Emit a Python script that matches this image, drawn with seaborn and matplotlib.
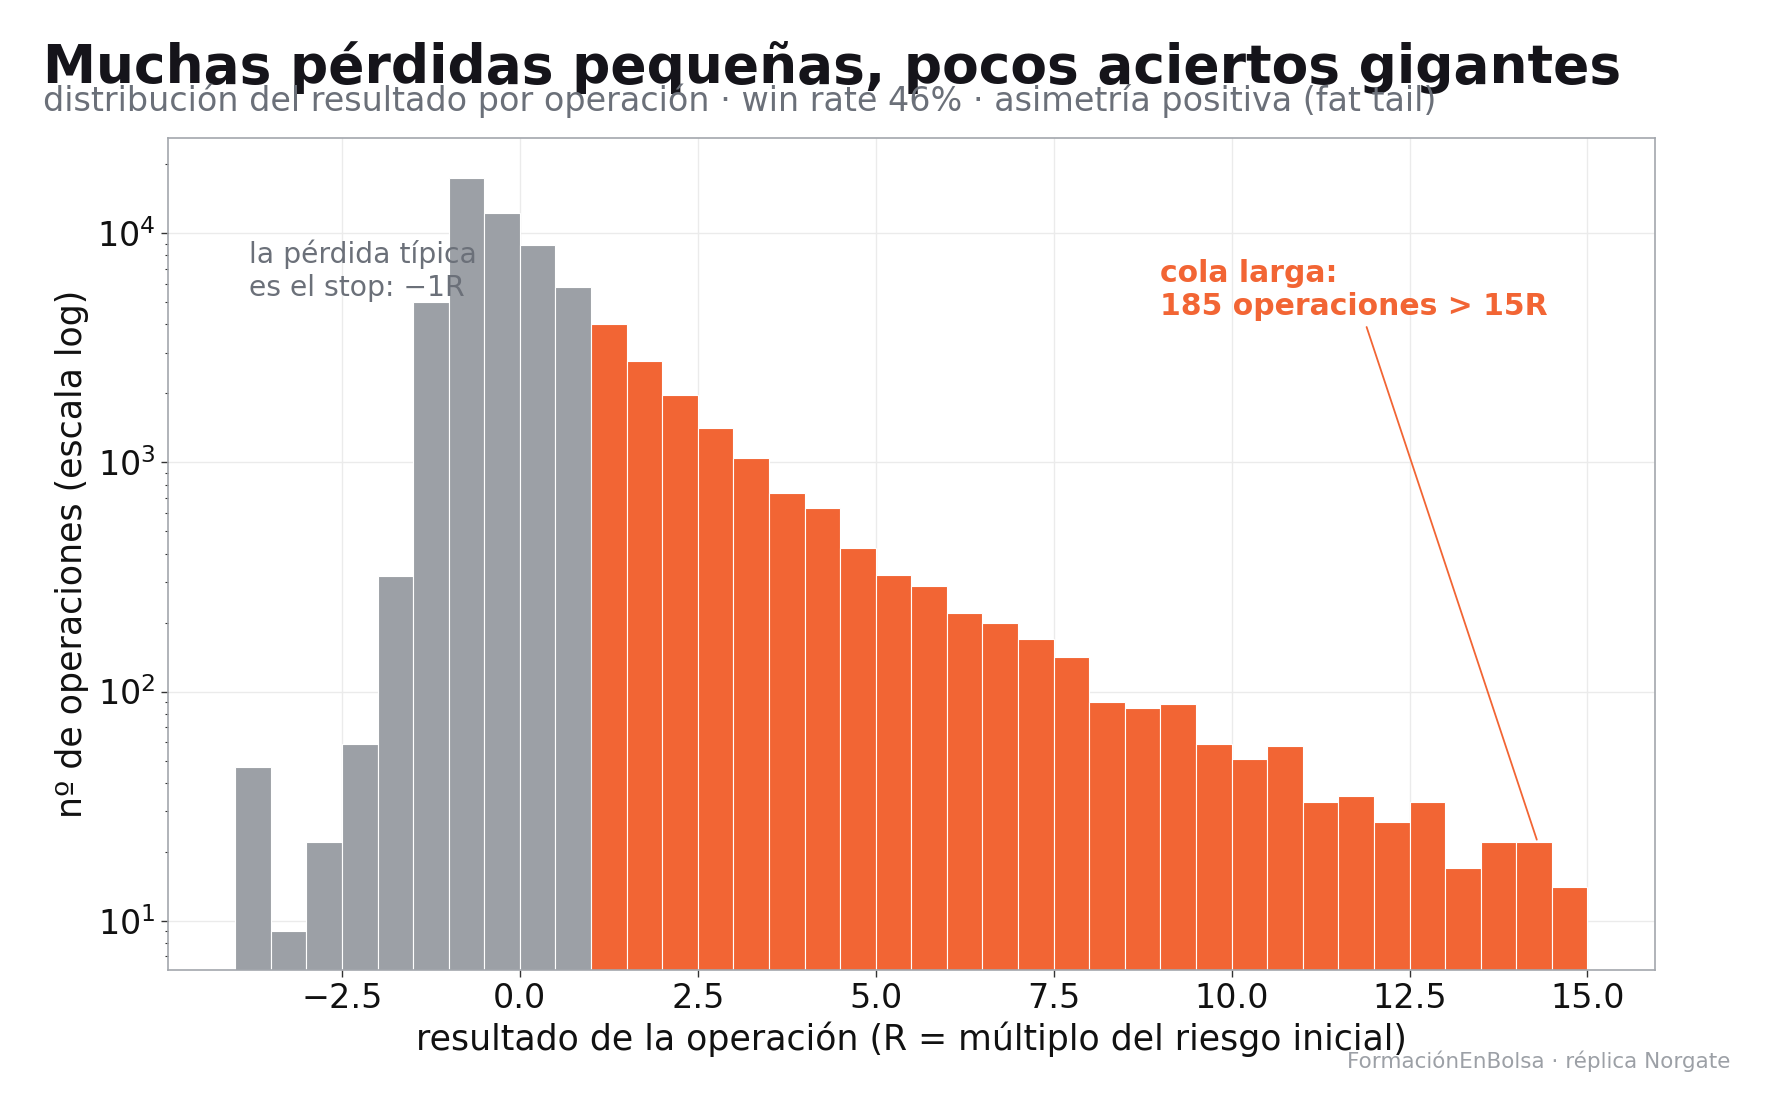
import numpy as np
import pandas as pd
import matplotlib
matplotlib.use("Agg")
import matplotlib.pyplot as plt
import seaborn as sns

# ---- data ----
bin_left = [-4.0, -3.5, -3.0, -2.5, -2.0, -1.5, -1.0, -0.5, 0.0, 0.5,
            1.0, 1.5, 2.0, 2.5, 3.0, 3.5, 4.0, 4.5, 5.0, 5.5,
            6.0, 6.5, 7.0, 7.5, 8.0, 8.5, 9.0, 9.5, 10.0, 10.5,
            11.0, 11.5, 12.0, 12.5, 13.0, 13.5, 14.0, 14.5]
counts = [47, 9, 22, 59, 320, 5000, 17400, 12300, 8900, 5850,
          4030, 2770, 1970, 1415, 1045, 735, 632, 425, 323, 289,
          220, 199, 169, 141, 90, 85, 88, 59, 51, 58,
          33, 35, 27, 33, 17, 22, 22, 14]
bin_width = 0.5
win_threshold = 1.0

title = "Muchas pérdidas pequeñas, pocos aciertos gigantes"
subtitle = "distribución del resultado por operación · win rate 46% · asimetría positiva (fat tail)"
xlabel = "resultado de la operación (R = múltiplo del riesgo inicial)"
ylabel = "nº de operaciones (escala log)"
note_loss = "la pérdida típica\nes el stop: −1R"
note_tail = "cola larga:\n185 operaciones > 15R"
credit = "FormaciónEnBolsa · réplica Norgate"

GRAY = "#9CA0A6"
ORANGE = "#F26534"

df = pd.DataFrame({"left": bin_left, "n": counts})
df["centro"] = df["left"] + bin_width / 2
lose = df[df["left"] < win_threshold]
win = df[df["left"] >= win_threshold]
edges_lose = list(lose["left"]) + [win_threshold]
edges_win = list(win["left"]) + [win["left"].iloc[-1] + bin_width]

sns.set_theme(style="whitegrid")
plt.rcParams["font.family"] = ["DejaVu Sans"]

fig = plt.figure(figsize=(17.73, 11.13), dpi=100)
ax = fig.add_axes([0.0945, 0.1285, 0.839, 0.7475])

sns.histplot(data=lose, x="centro", weights="n", bins=edges_lose, color=GRAY,
             alpha=1, edgecolor="white", linewidth=0.8, ax=ax)
sns.histplot(data=win, x="centro", weights="n", bins=edges_win, color=ORANGE,
             alpha=1, edgecolor="white", linewidth=0.8, ax=ax)

ax.set_yscale("log")
ax.set_ylim(6.1, 26000)
ax.set_xlim(-4.95, 15.95)

ax.grid(True, which="major", color="#EBEBEB", linewidth=1.0)
ax.set_axisbelow(True)
for s in ax.spines.values():
    s.set_visible(True)
    s.set_color("#A3A7AD")
    s.set_linewidth(1.2)
ax.tick_params(axis="both", which="major", labelsize=24, length=5, width=1,
               color="#333333", labelcolor="#111111", left=True, bottom=True)
ax.tick_params(axis="y", which="minor", length=2.5, width=0.8, color="#333333", left=True)

ax.set_xlabel(xlabel, fontsize=25, color="#111111", labelpad=5)
ax.set_ylabel(ylabel, fontsize=25, color="#111111", labelpad=6)

ax.text(-3.8, 9350, note_loss, fontsize=20.3, color="#6B7079", ha="left", va="top")
ax.annotate(note_tail, xy=(14.3, 22), xytext=(9.0, 7750),
            fontsize=21.5, fontweight="bold", color=ORANGE, ha="left", va="top",
            arrowprops=dict(arrowstyle="-", color=ORANGE, lw=1.3))

fig.text(0.024, 0.925, title, fontsize=38.4, fontweight="bold", color="#15141A",
         ha="left", va="baseline")
fig.text(0.024, 0.9, subtitle, fontsize=24, color="#6B7079", ha="left", va="baseline")
fig.text(0.976, 0.040, credit, fontsize=15.5, color="#9CA0A6", ha="right", va="baseline")

fig.savefig("out.png", dpi=100, facecolor="white")
